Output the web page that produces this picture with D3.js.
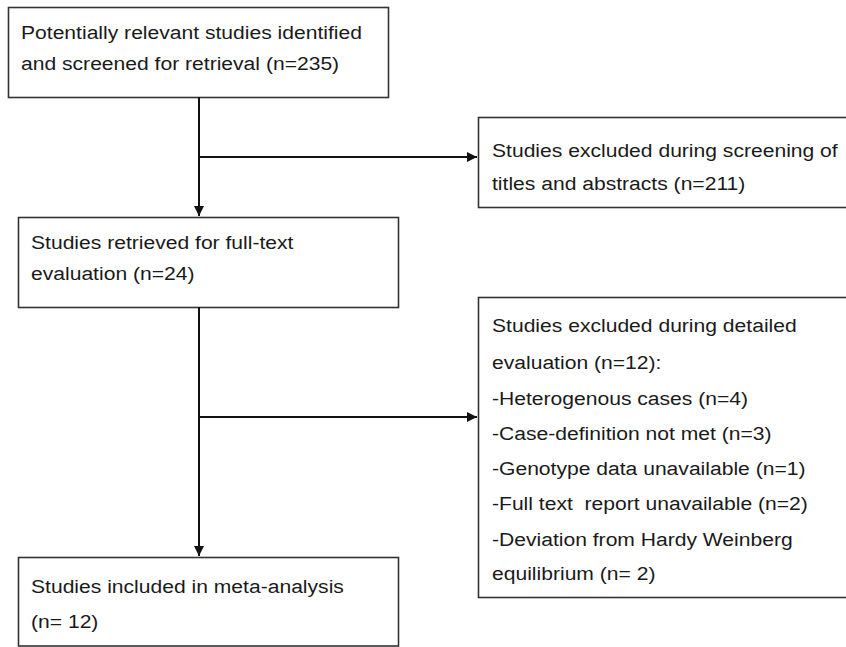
<!DOCTYPE html>
<html><head><meta charset="utf-8">
<script src="https://cdn.jsdelivr.net/npm/d3@7"></script>
<style>html,body{margin:0;padding:0;background:#fff;} svg{display:block;}</style>
</head><body>
<svg id="c" width="846" height="647"></svg>
<script>
// ---- data ----
const stageLabels = [
  ["Potentially relevant studies identified", "and screened for retrieval (n=235)"],
  ["Studies retrieved for full-text", "evaluation (n=24)"],
  ["Studies included in meta-analysis", "(n= 12)"]
];
const exclusionLabels = [
  ["Studies excluded during screening of", "titles and abstracts (n=211)"],
  ["Studies excluded during detailed", "evaluation (n=12):",
   "-Heterogenous cases (n=4)", "-Case-definition not met (n=3)",
   "-Genotype data unavailable (n=1)", "-Full text  report unavailable (n=2)",
   "-Deviation from Hardy Weinberg", "equilibrium (n= 2)"]
];
const stageCounts = [235, 24, 12];
const excludedCounts = [211, 12];

// ---- layout ----
const svg = d3.select("#c");
const font = "'Liberation Sans', Arial, sans-serif";
const fs = 19;
const stretch = 1.11;
const stageBoxes = [
  {x: 8, y: 7, w: 380, h: 90, tx: 21, ty: [39, 70]},
  {x: 18, y: 217, w: 380, h: 90, tx: 31, ty: [249, 280]},
  {x: 18, y: 557, w: 380, h: 88.5, tx: 31, ty: [593, 628]}
];
const exclBoxes = [
  {x: 478, y: 117, w: 380, h: 90, tx: 492, ty: [157, 190]},
  {x: 478, y: 297, w: 380, h: 300, tx: 492, ty: [332, 369, 405, 440, 475, 510, 546, 580]}
];

svg.append("defs").append("marker")
  .attr("id", "ah").attr("viewBox", "0 0 10 10")
  .attr("refX", 10).attr("refY", 5)
  .attr("markerWidth", 10).attr("markerHeight", 10)
  .attr("markerUnits", "userSpaceOnUse")
  .attr("orient", "auto")
  .append("path").attr("d", "M0,0 L10,5 L0,10 Z").attr("fill", "#111");

function drawBox(b, lines) {
  const g = svg.append("g");
  g.append("rect").attr("x", b.x + 0.5).attr("y", b.y + 0.5)
    .attr("width", b.w).attr("height", b.h)
    .attr("fill", "#fff").attr("stroke", "#333").attr("stroke-width", 1.6);
  g.selectAll("text").data(lines).join("text")
    .attr("transform", (d, i) => `translate(${b.tx},${b.ty[i]}) scale(${stretch},1)`)
    .attr("font-family", font).attr("font-size", fs)
    .attr("fill", "#1a1a1a")
    .style("white-space", "pre")
    .text(d => d);
}
stageBoxes.forEach((b, i) => drawBox(b, stageLabels[i]));
exclBoxes.forEach((b, i) => drawBox(b, exclusionLabels[i]));

const vx = 199;
function line(x1, y1, x2, y2, arrow) {
  const l = svg.append("line").attr("x1", x1).attr("y1", y1).attr("x2", x2).attr("y2", y2)
    .attr("stroke", "#111").attr("stroke-width", 2);
  if (arrow) l.attr("marker-end", "url(#ah)");
}
// main flow
line(vx, 97, vx, 216, true);
line(vx, 307, vx, 556, true);
// exclusions
line(vx, 157, 477, 157, true);
line(vx, 417, 477, 417, true);
</script>
</body></html>
